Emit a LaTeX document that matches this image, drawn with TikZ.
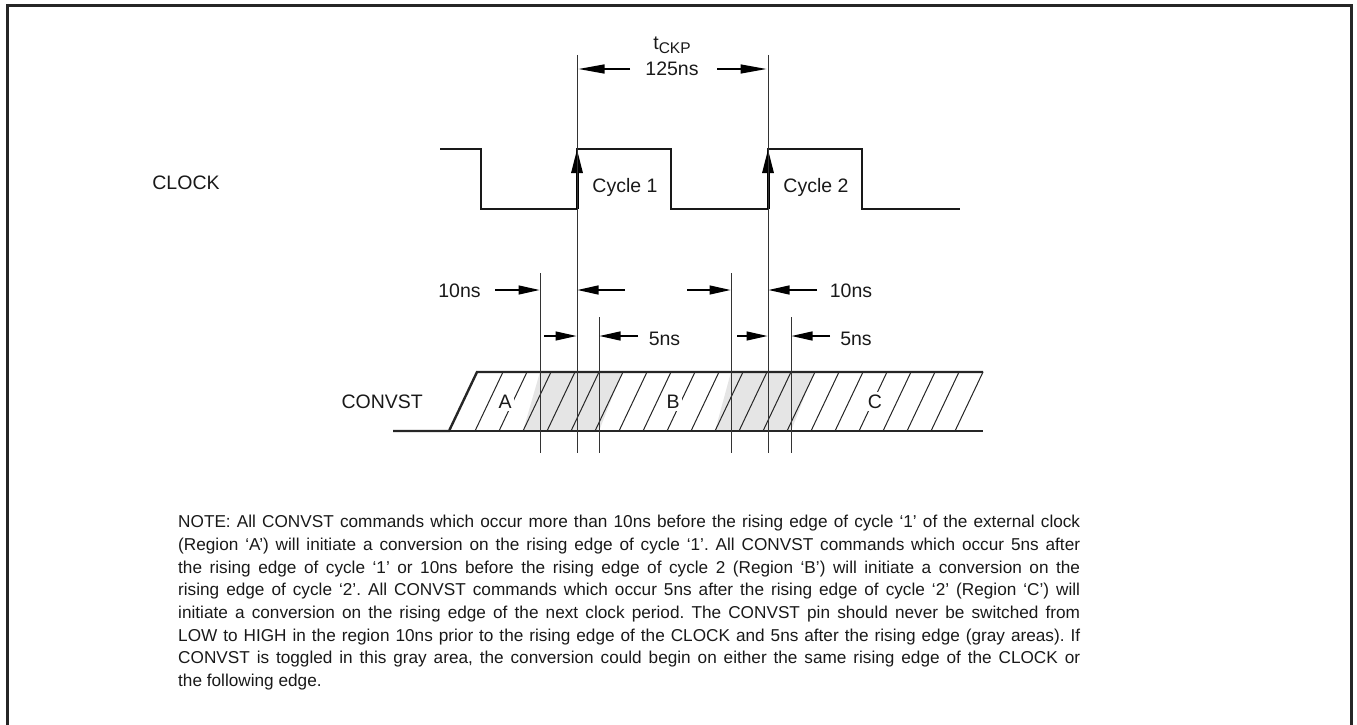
\documentclass[tikz,border=0pt]{standalone}
\usepackage{fontspec}
\setmainfont{Liberation Sans}
\usetikzlibrary{arrows.meta}
\begin{document}
\begin{tikzpicture}[x=1pt,y=-1pt,
  frame/.style={line width=3pt, draw=black!85},
  wave/.style={line width=2.6pt, draw=black!90, line join=miter},
  vline/.style={line width=1pt, draw=black!80},
  hatch/.style={line width=1pt, draw=black!85},
  band/.style={line width=2.4pt, draw=black!85},
  dim/.style={line width=1.3pt, draw=black, -{Triangle[length=21pt,width=9pt]}},
  dimlong/.style={line width=1.3pt, draw=black, -{Triangle[length=26pt,width=9pt]}},
  edgearrow/.style={line width=3pt, draw=black, -{Triangle[length=24pt,width=11pt]}},
  lbl/.style={font=\fontsize{19.5}{21}\selectfont, inner sep=0pt, text=black!90},
  region/.style={font=\fontsize{19.5}{21}\selectfont, inner sep=2.5pt, fill=white, text=black!90},
  graybox/.style={fill=black!10, draw=none}
]
\useasboundingbox (0,0) rectangle (1357,725);

% frame (open at bottom)
\draw[frame] (7,730) -- (7,6) -- (1351,6) -- (1351,730);

% ---- CLOCK waveform
\coordinate (r1b) at (577,209);
\coordinate (r1t) at (577,149);
\coordinate (r2b) at (768,209);
\coordinate (r2t) at (768,149);
\draw[wave] (440,149) -- (481,149) -- (481,209) -- (r1b) -- (r1t) -- (671,149)
  -- (671,209) -- (r2b) -- (r2t) -- (862,149) -- (862,209) -- (960,209);
\draw[edgearrow] (r1b) -- (r1t);
\draw[edgearrow] (r2b) -- (r2t);

\node[lbl, anchor=base] (clk) at (186,189) {CLOCK};
\node[lbl, anchor=base] (cy1) at (625,192) {Cycle 1};
\node[lbl, anchor=base] (cy2) at (816,192) {Cycle 2};

% ---- CONVST band
\fill[graybox] (523,431) -- (540,372) -- (622,372) -- (599,431) -- cycle;
\fill[graybox] (715,431) -- (731,372) -- (814,372) -- (791,431) -- cycle;
\foreach \k in {0,...,20}
  \draw[hatch] ({475+24*\k},431) -- ({503+24*\k},372);
\draw[band] (393,431) -- (449,431) -- (477,372) -- (983,372);
\draw[band] (449,431) -- (983,431);

\node[region, anchor=base] (ra) at (505,408) {A};
\node[region, anchor=base] (rb) at (673,408) {B};
\node[region, anchor=base] (rc) at (875,408) {C};
\node[lbl, anchor=base east] (cnv) at (423,408) {CONVST};

% ---- vertical reference lines
\coordinate (v1t) at (577,55);  \coordinate (v1b) at (577,453);
\coordinate (v2t) at (768,55);  \coordinate (v2b) at (768,453);
\coordinate (a1t) at (540,273); \coordinate (a1b) at (540,453);
\coordinate (b1t) at (599,317); \coordinate (b1b) at (599,453);
\coordinate (a2t) at (731,273); \coordinate (a2b) at (731,453);
\coordinate (b2t) at (791,317); \coordinate (b2b) at (791,453);
\foreach \p in {v1,v2,a1,b1,a2,b2}
  \draw[vline] (\p t) -- (\p b);

% ---- tCKP
\node[lbl, anchor=base] (tckp) at (672,50) {t\raisebox{-3.5pt}{\fontsize{15.5}{15.5}\selectfont CKP}};
\node[lbl, anchor=base] (t125) at (672,75) {125ns};
\coordinate (tl0) at (630,69); \coordinate (tl1) at (578.5,69);
\coordinate (tr0) at (717,69); \coordinate (tr1) at (766.5,69);
\draw[dimlong] (tl0) -- (tl1);
\draw[dimlong] (tr0) -- (tr1);

% ---- 10ns / 5ns markers
\node[lbl, anchor=base] (n10a) at (459.5,297) {10ns};
\node[lbl, anchor=base] (n10b) at (851,297) {10ns};
\node[lbl, anchor=base] (n5a) at (664.5,345) {5ns};
\node[lbl, anchor=base] (n5b) at (856,345) {5ns};

\coordinate (p1) at (495,290); \coordinate (p1e) at (539.5,290);
\coordinate (p2) at (625,290); \coordinate (p2e) at (577.5,290);
\coordinate (p3) at (687,290); \coordinate (p3e) at (730.5,290);
\coordinate (p4) at (817,290); \coordinate (p4e) at (768.5,290);
\coordinate (q1) at (544,336); \coordinate (q1e) at (576.5,336);
\coordinate (q2) at (638,336); \coordinate (q2e) at (599.5,336);
\coordinate (q3) at (737,336); \coordinate (q3e) at (767.5,336);
\coordinate (q4) at (830,336); \coordinate (q4e) at (791.5,336);
\foreach \p in {p1,p2,p3,p4,q1,q2,q3,q4}
  \draw[dim] (\p) -- (\p e);

% ---- note
\node[anchor=north west, inner sep=0pt, text width=902pt, align=justify,
      font=\fontsize{17.2}{22.7}\selectfont\frenchspacing, text=black!90] (note) at (178,515) {%
NOTE: All CONVST commands which occur more than 10ns before the rising edge of cycle ‘1’ of the external clock\linebreak
(Region ‘A’) will initiate a conversion on the rising edge of cycle ‘1’. All CONVST commands which occur 5ns after\linebreak
the rising edge of cycle ‘1’ or 10ns before the rising edge of cycle 2 (Region ‘B’) will initiate a conversion on the\linebreak
rising edge of cycle ‘2’. All CONVST commands which occur 5ns after the rising edge of cycle ‘2’ (Region ‘C’) will\linebreak
initiate a conversion on the rising edge of the next clock period. The CONVST pin should never be switched from\linebreak
LOW to HIGH in the region 10ns prior to the rising edge of the CLOCK and 5ns after the rising edge (gray areas). If\linebreak
CONVST is toggled in this gray area, the conversion could begin on either the same rising edge of the CLOCK or\linebreak
the following edge.};
\end{tikzpicture}
\end{document}
